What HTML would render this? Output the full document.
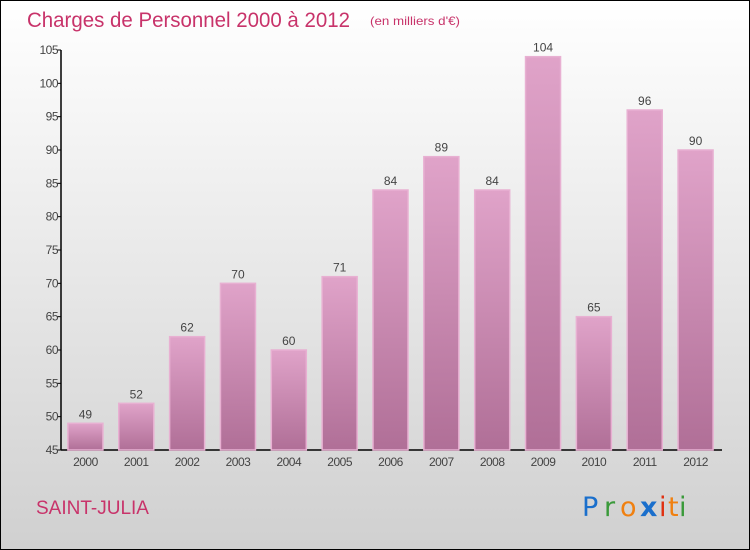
<!DOCTYPE html>
<html><head><meta charset="utf-8"><style>
body{margin:0;width:750px;height:550px;overflow:hidden;font-family:"Liberation Sans",sans-serif}
#wrap{position:absolute;left:0;top:0;width:748px;height:548px;border:1px solid #000;background:linear-gradient(#ffffff,#d0d0d0)}
</style></head><body>
<div id="wrap">
<svg width="748" height="548" viewBox="1 1 748 548" style="position:absolute;left:0;top:0">
<defs><linearGradient id="bg" x1="0" y1="0" x2="0" y2="1"><stop offset="0" stop-color="#e0a3c9"/><stop offset="1" stop-color="#b06f97"/></linearGradient></defs>
<text x="27" y="27" font-size="21" textLength="323" lengthAdjust="spacingAndGlyphs" fill="#c8336a">Charges de Personnel 2000 à 2012</text>
<text x="370" y="25" font-size="12" textLength="90" lengthAdjust="spacingAndGlyphs" fill="#c8336a">(en milliers d'€)</text>
<g id="axes"></g><g id="bars"></g>
<text x="36" y="514" font-size="19" fill="#c8336a">SAINT-JULIA</text>
<g font-size="27" font-family="'DejaVu Sans',sans-serif">
<text x="582" y="516" fill="#1a6fcc">P</text><text x="604" y="516" fill="#3a9a3a">r</text><text x="620" y="516" fill="#f08010">o</text><text x="640" y="516" fill="#1a6fcc" font-weight="bold">x</text><text x="659" y="516" fill="#e03010">i</text><text x="668" y="516" fill="#f08010">t</text><text x="679" y="516" fill="#3a9a3a">i</text>
</g>
</svg></div>
<script>
const years=["2000","2001","2002","2003","2004","2005","2006","2007","2008","2009","2010","2011","2012"];
const values=[49,52,62,70,60,71,84,89,84,104,65,96,90];
const yTicks=[45,50,55,60,65,70,75,80,85,90,95,100,105];
const NS="http://www.w3.org/2000/svg";
const x0=61,x1=722,yTop=50,yBot=450,vMin=45,vMax=105;
const slot=(x1-x0)/years.length;
function y(v){return yBot-(v-vMin)/(vMax-vMin)*(yBot-yTop);}
function xc(i){return x0+slot*(i+0.5)-1;}
function mk(tag,attrs,parent,txt){const e=document.createElementNS(NS,tag);for(const k in attrs)e.setAttribute(k,attrs[k]);if(txt!==undefined)e.textContent=txt;parent.appendChild(e);return e;}
const ax=document.getElementById('axes'),bg=document.getElementById('bars');
let l=mk('line',{x1:x0,y1:yTop,x2:x0,y2:yBot,stroke:'#000','stroke-width':1.5},ax);


l=mk('line',{x1:x0,y1:yBot,x2:x1,y2:yBot,stroke:'#000','stroke-width':1.5},ax);


yTicks.forEach(t=>{
 mk('line',{x1:x0-4,y1:y(t),x2:x0,y2:y(t),stroke:'#000'},ax);
 const tx=mk('text',{x:x0-3,y:y(t)+4,'font-size':12,fill:'#444','text-anchor':'end','letter-spacing':'-0.5'},ax,String(t));
 
 
});
years.forEach((yr,i)=>{
 const c=xc(i),w=35;
 const r=mk('rect',{x:c-w/2,y:y(values[i]),width:w,height:yBot-y(values[i]),fill:'url(#bg)',stroke:'#e8b0d2','stroke-width':1.5},bg);
 
 
 const v=mk('text',{x:c,y:y(values[i])-5,'font-size':12,fill:'#444','text-anchor':'middle'},bg,String(values[i]));
 
 
 const t=mk('text',{x:c,y:yBot+16,'font-size':12,fill:'#444','text-anchor':'middle','letter-spacing':'-0.5'},bg,yr);
 
 
});
</script>
</body></html>
